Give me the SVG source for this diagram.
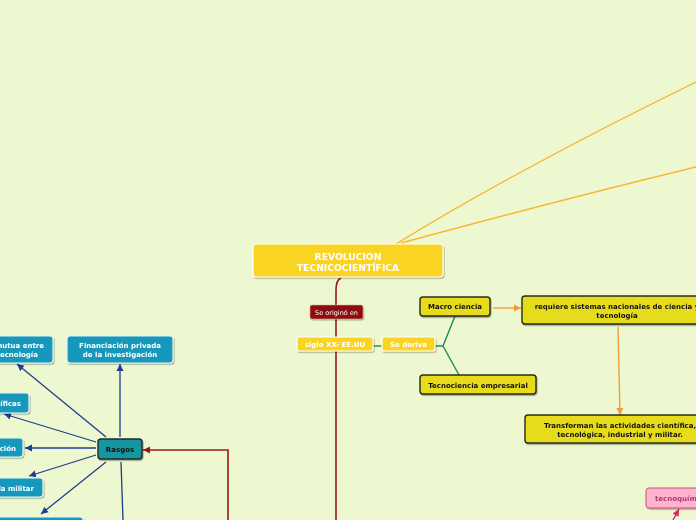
<svg xmlns="http://www.w3.org/2000/svg" width="696" height="520" viewBox="0 0 696 520">
<style>
text{font-family:"DejaVu Sans","Verdana",sans-serif;font-weight:bold;font-size:7px}
.c{text-anchor:middle}
.e{text-anchor:end}
.big{font-size:9.2px}
.thin{font-weight:normal;font-size:6.5px}
.yel rect{fill:#f9d420;stroke:#fff;stroke-width:1.2}
.yel text{fill:#fff}
.ol rect{fill:#e7dc1f;stroke:#2b2b1a;stroke-width:1.4}
.ol text{fill:#111}
.blu rect{fill:#1598bd;stroke:#e8f6f0;stroke-width:1.2}
.blu text{fill:#fff}
.ln{fill:none}
</style>
<defs>
<filter id="sh" x="-20%" y="-20%" width="140%" height="160%"><feDropShadow dx="0.8" dy="1.2" stdDeviation="0.6" flood-color="#000" flood-opacity="0.35"/></filter>
<marker id="ab" markerUnits="userSpaceOnUse" markerWidth="8" markerHeight="8" refX="7" refY="4" orient="auto"><path d="M0,0.5 L7,4 L0,7.5 z" fill="#1f3d8c"/></marker>
<marker id="ar" markerUnits="userSpaceOnUse" markerWidth="8" markerHeight="8" refX="7" refY="4" orient="auto"><path d="M0,0.5 L7,4 L0,7.5 z" fill="#9a1a1a"/></marker>
<marker id="ao" markerUnits="userSpaceOnUse" markerWidth="8" markerHeight="8" refX="7" refY="4" orient="auto"><path d="M0,0.5 L7,4 L0,7.5 z" fill="#f39c3a"/></marker>
<marker id="ap" markerUnits="userSpaceOnUse" markerWidth="8" markerHeight="8" refX="7" refY="4" orient="auto"><path d="M0,0.5 L7,4 L0,7.5 z" fill="#e0245e"/></marker>
</defs>
<rect width="696" height="520" fill="#eef8d0"/>

<g id="connectors" class="ln">
<path d="M396,244 Q520,168 696,82" stroke="#f8b62c" stroke-width="1.3"/>
<path d="M401,243 Q560,200 696,167" stroke="#f8b62c" stroke-width="1.3"/>
<path d="M341,278 Q336,280 336,290 L336,520" stroke="#9a1a1a" stroke-width="1.6"/>
<path d="M228,520 L228,450 L143,450" stroke="#9a1a1a" stroke-width="1.6" marker-end="url(#ar)"/>
<path d="M373,346 L382,346" stroke="#1e8a55" stroke-width="1.4"/>
<path d="M435,346 L443,346 L455,316 M443,346 L459,375" stroke="#1e8a55" stroke-width="1.4"/>
<path d="M493,308 L521,308" stroke="#f39c3a" stroke-width="1.4" marker-end="url(#ao)"/>
<path d="M618,327 L620,415" stroke="#f39c3a" stroke-width="1.4" marker-end="url(#ao)"/>
<path d="M673,520 L679,509" stroke="#e0245e" stroke-width="1.4" marker-end="url(#ap)"/>
<g stroke="#1f3d8c" stroke-width="1.3">
<path d="M120,437 L120,364" marker-end="url(#ab)"/>
<path d="M106,437 L17,364" marker-end="url(#ab)"/>
<path d="M96,442 L4,414" marker-end="url(#ab)"/>
<path d="M96,448 L25,448" marker-end="url(#ab)"/>
<path d="M96,455 L29,476" marker-end="url(#ab)"/>
<path d="M106,462 L41,514" marker-end="url(#ab)"/>
<path d="M121,462 L123,520"/>
</g>
</g>

<g id="n-revolucion" class="yel" filter="url(#sh)"><rect x="253" y="244" width="190" height="33" rx="3"/><text class="c big" x="348" y="259.5">REVOLUCION</text><text class="c big" x="348" y="270.5">TECNICOCIENTÍFICA</text></g>
<g id="n-origino" filter="url(#sh)"><rect x="310" y="305" width="53" height="14" rx="2" fill="#8c0b0b" stroke="#d8b0a0" stroke-width="0.6"/><text class="c thin" x="336.5" y="314.5" fill="#fff">Se originó en</text></g>
<g id="n-siglo" class="yel" filter="url(#sh)"><rect x="297" y="337" width="76" height="14" rx="2"/><text class="c" x="335" y="347">siglo XX- EE.UU</text></g>
<g id="n-deriva" class="yel" filter="url(#sh)"><rect x="382" y="337" width="53" height="14" rx="2"/><text class="c" x="408.5" y="347">Se deriva</text></g>
<g id="n-macro" class="ol" filter="url(#sh)"><rect x="420" y="297" width="70" height="19" rx="3"/><text class="c" x="455" y="309">Macro ciencia</text></g>
<g id="n-tecnociencia" class="ol" filter="url(#sh)"><rect x="420" y="375" width="116" height="19" rx="3"/><text class="c" x="478" y="387.5">Tecnociencia empresarial</text></g>
<g id="n-requiere" class="ol" filter="url(#sh)"><rect x="522" y="296" width="192" height="28" rx="3"/><text class="c" x="617" y="308.5">requiere sistemas nacionales de ciencia y</text><text class="c" x="617" y="317.5">tecnología</text></g>
<g id="n-transforman" class="ol" filter="url(#sh)"><rect x="525" y="415" width="192" height="28" rx="3"/><text class="c" x="620" y="428">Transforman las actividades científica,</text><text class="c" x="620" y="436.5">tecnológica, industrial y militar.</text></g>
<g id="n-tecnoquim" filter="url(#sh)"><rect x="646" y="488" width="70" height="20" rx="3" fill="#ffb3cf" stroke="#c8507f" stroke-width="1"/><text x="655" y="501" fill="#b03a6c">tecnoquím</text></g>
<g id="n-rasgos" filter="url(#sh)"><rect x="98" y="439" width="44" height="20" rx="3" fill="#16969e" stroke="#1d2b2b" stroke-width="1.4"/><text class="c" x="120" y="452" fill="#111">Rasgos</text></g>
<g id="n-financiacion" class="blu" filter="url(#sh)"><rect x="67" y="336" width="106" height="27" rx="3"/><text class="c" x="120" y="347.5">Financiación privada</text><text class="c" x="120" y="357">de la investigación</text></g>
<g id="n-mutua" class="blu" filter="url(#sh)"><rect x="-10" y="336" width="63" height="27" rx="3"/><text class="e" x="44" y="347.5">mutua entre</text><text class="e" x="38" y="357">tecnología</text></g>
<g id="n-ificas" class="blu" filter="url(#sh)"><rect x="-10" y="393" width="39" height="20" rx="3"/><text class="e" x="21" y="406">tíficas</text></g>
<g id="n-cion" class="blu" filter="url(#sh)"><rect x="-10" y="438" width="33" height="19" rx="3"/><text class="e" x="16" y="451">ción</text></g>
<g id="n-militar" class="blu" filter="url(#sh)"><rect x="-10" y="478" width="53" height="19" rx="3"/><text class="e" x="34" y="490.5">la militar</text></g>
<g id="n-bottom" class="blu" filter="url(#sh)"><rect x="-10" y="517" width="93" height="20" rx="3"/></g>
</svg>
